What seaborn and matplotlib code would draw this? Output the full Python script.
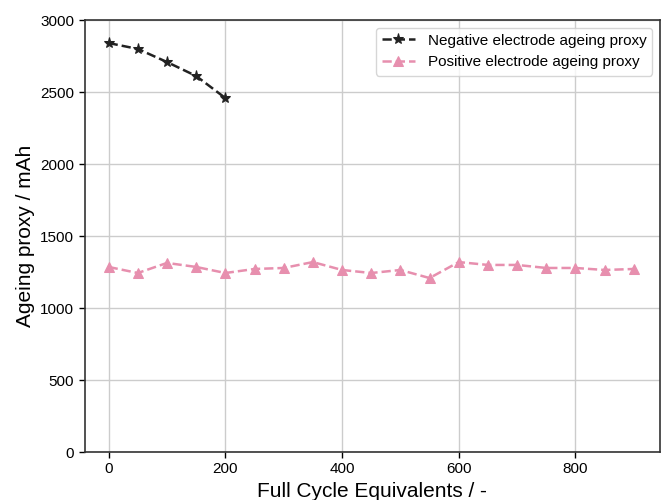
import pandas as pd
import seaborn as sns
import matplotlib
matplotlib.use('Agg')
import matplotlib.pyplot as plt

sns.set_theme()
sns.set_style('white')
plt.rcParams['font.family'] = ['Liberation Sans', 'DejaVu Sans']
plt.rcParams['text.color'] = 'black'
plt.rcParams['axes.labelcolor'] = 'black'

neg_fce = [0, 50, 100, 150, 200]
neg_proxy = [2840, 2799, 2708, 2611, 2458]

pos_fce = [0, 50, 100, 150, 200, 250, 300, 350, 400, 450, 500, 550, 600, 650, 700, 750, 800, 850, 900]
pos_proxy = [1285, 1243, 1313, 1285, 1243, 1271, 1278, 1319, 1264, 1243, 1264, 1208, 1319, 1299, 1299, 1278, 1278, 1264, 1271]

neg = pd.DataFrame({'fce': neg_fce, 'proxy': neg_proxy})
pos = pd.DataFrame({'fce': pos_fce, 'proxy': pos_proxy})

fig = plt.figure(figsize=(6.62, 5), dpi=100)
ax = fig.add_axes([0.128, 0.096, 0.869, 0.864])

sns.lineplot(neg, x='fce', y='proxy', ax=ax, color='#222222', linestyle='--', marker='*',
             markersize=8, markeredgecolor='#222222', linewidth=1.8, label='Negative electrode ageing proxy')
sns.lineplot(pos, x='fce', y='proxy', ax=ax, color='#e78fae', linestyle='--', marker='^',
             markersize=7, markeredgecolor='#e78fae', linewidth=1.8, label='Positive electrode ageing proxy')

ax.set_xlim(-41, 945)
ax.set_ylim(0, 3000)
ax.set_xticks([0, 200, 400, 600, 800])
ax.set_yticks(range(0, 3001, 500))
ax.grid(True, color='#cccccc', linewidth=1)
ax.tick_params(axis='both', labelsize=11, direction='out', length=4, width=1, bottom=True, left=True,
               colors='black')
for s in ax.spines.values():
    s.set_color('#333333')
    s.set_linewidth(1.2)

ax.set_xlabel('Full Cycle Equivalents / -', fontsize=15)
ax.set_ylabel('Ageing proxy / mAh', fontsize=15)
ax.legend(loc='upper right', fontsize=11, frameon=True, handlelength=2.2)

fig.savefig('out.png', dpi=100)
